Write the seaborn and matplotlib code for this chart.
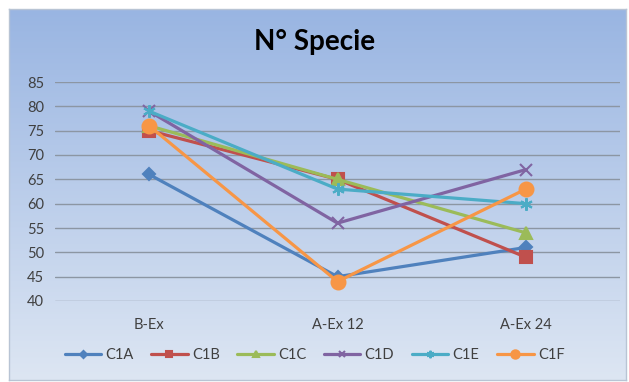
"""
N° Specie - andamento per campione (B-Ex, A-Ex 12, A-Ex 24)
"""

import numpy as np
import pandas as pd
import matplotlib
matplotlib.use("Agg")
import matplotlib.pyplot as plt
from matplotlib.colors import LinearSegmentedColormap
import seaborn as sns

# dati
CATEGORIE = ["B-Ex", "A-Ex 12", "A-Ex 24"]
C1A = [66, 45, 51]
C1B = [75, 65, 49]
C1C = [76, 65, 54]
C1D = [79, 56, 67]
C1E = [79, 63, 60]
C1F = [76, 44, 63]

SERIE = {"C1A": C1A, "C1B": C1B, "C1C": C1C, "C1D": C1D, "C1E": C1E, "C1F": C1F}
COLORI = {"C1A": "#4F81BD", "C1B": "#C0504D", "C1C": "#9BBB59",
          "C1D": "#8064A2", "C1E": "#4BACC6", "C1F": "#F79646"}
MARKER = {"C1A": "D", "C1B": "s", "C1C": "^", "C1D": "x", "C1E": (6, 2, 0), "C1F": "o"}
MSIZE = {"C1A": 6, "C1B": 8, "C1C": 8, "C1D": 8, "C1E": 9, "C1F": 10}

sns.set_style("white")
plt.rcParams["font.family"] = ["Lato", "DejaVu Sans"]

W, H = 629, 382
fig = plt.figure(figsize=(W / 100, H / 100), dpi=100)
fig.patch.set_facecolor("white")

# sfondo sfumato stile Excel
bg = fig.add_axes([9 / W, 2 / H, 617 / W, 371 / H])
cmap = LinearSegmentedColormap.from_list("bg", ["#DDE6F3", "#99B5E2"])
grad = np.linspace(0, 1, 256).reshape(-1, 1)
bg.imshow(grad, aspect="auto", cmap=cmap, origin="lower", extent=[0, 1, 0, 1])
bg.set_xticks([])
bg.set_yticks([])
for s in bg.spines.values():
    s.set_color("#B8C4D4")
    s.set_linewidth(1)

df = pd.DataFrame({"cat": np.tile(np.arange(len(CATEGORIE)), len(SERIE)),
                   "serie": np.repeat(list(SERIE.keys()), len(CATEGORIE)),
                   "valore": np.concatenate([SERIE[k] for k in SERIE])})

ax = fig.add_axes([55 / W, 1 - 301 / H, 565 / W, 219 / H])
ax.patch.set_alpha(0)
for nome in SERIE:
    sub = df[df["serie"] == nome]
    sns.lineplot(data=sub, x="cat", y="valore", ax=ax, color=COLORI[nome],
                 marker=MARKER[nome], markersize=MSIZE[nome], linewidth=2.3,
                 markeredgecolor=COLORI[nome], markeredgewidth=1.5,
                 label=nome)

ax.set_xlim(-0.5, len(CATEGORIE) - 0.5)
ax.set_ylim(40, 85)
ax.set_yticks(range(40, 90, 5))
ax.set_xticks(range(len(CATEGORIE)))
ax.set_xticklabels(CATEGORIE)
ax.yaxis.grid(True, color="#8C96A3", linewidth=1)
ax.set_axisbelow(True)
for s in ax.spines.values():
    s.set_visible(False)
ax.tick_params(axis="both", length=0, labelsize=10.5, colors="#404040")
ax.tick_params(axis="y", pad=8)
ax.tick_params(axis="x", pad=12)
ax.set_xlabel("")
ax.set_ylabel("")

fig.text(0.5, 1 - 42 / H, "N° Specie", ha="center", va="center",
         fontsize=20, fontweight="bold", color="black")

handles, labels = ax.get_legend_handles_labels()
ax.legend(handles, labels, loc="center", bbox_to_anchor=(0.5, 1 - 355 / H),
          bbox_transform=fig.transFigure, ncol=6, frameon=False, fontsize=10.5,
          handlelength=2.5, columnspacing=1.2, handletextpad=0.3,
          markerscale=0.6, labelcolor="#404040")

fig.savefig("out.png", dpi=100, facecolor="white")
